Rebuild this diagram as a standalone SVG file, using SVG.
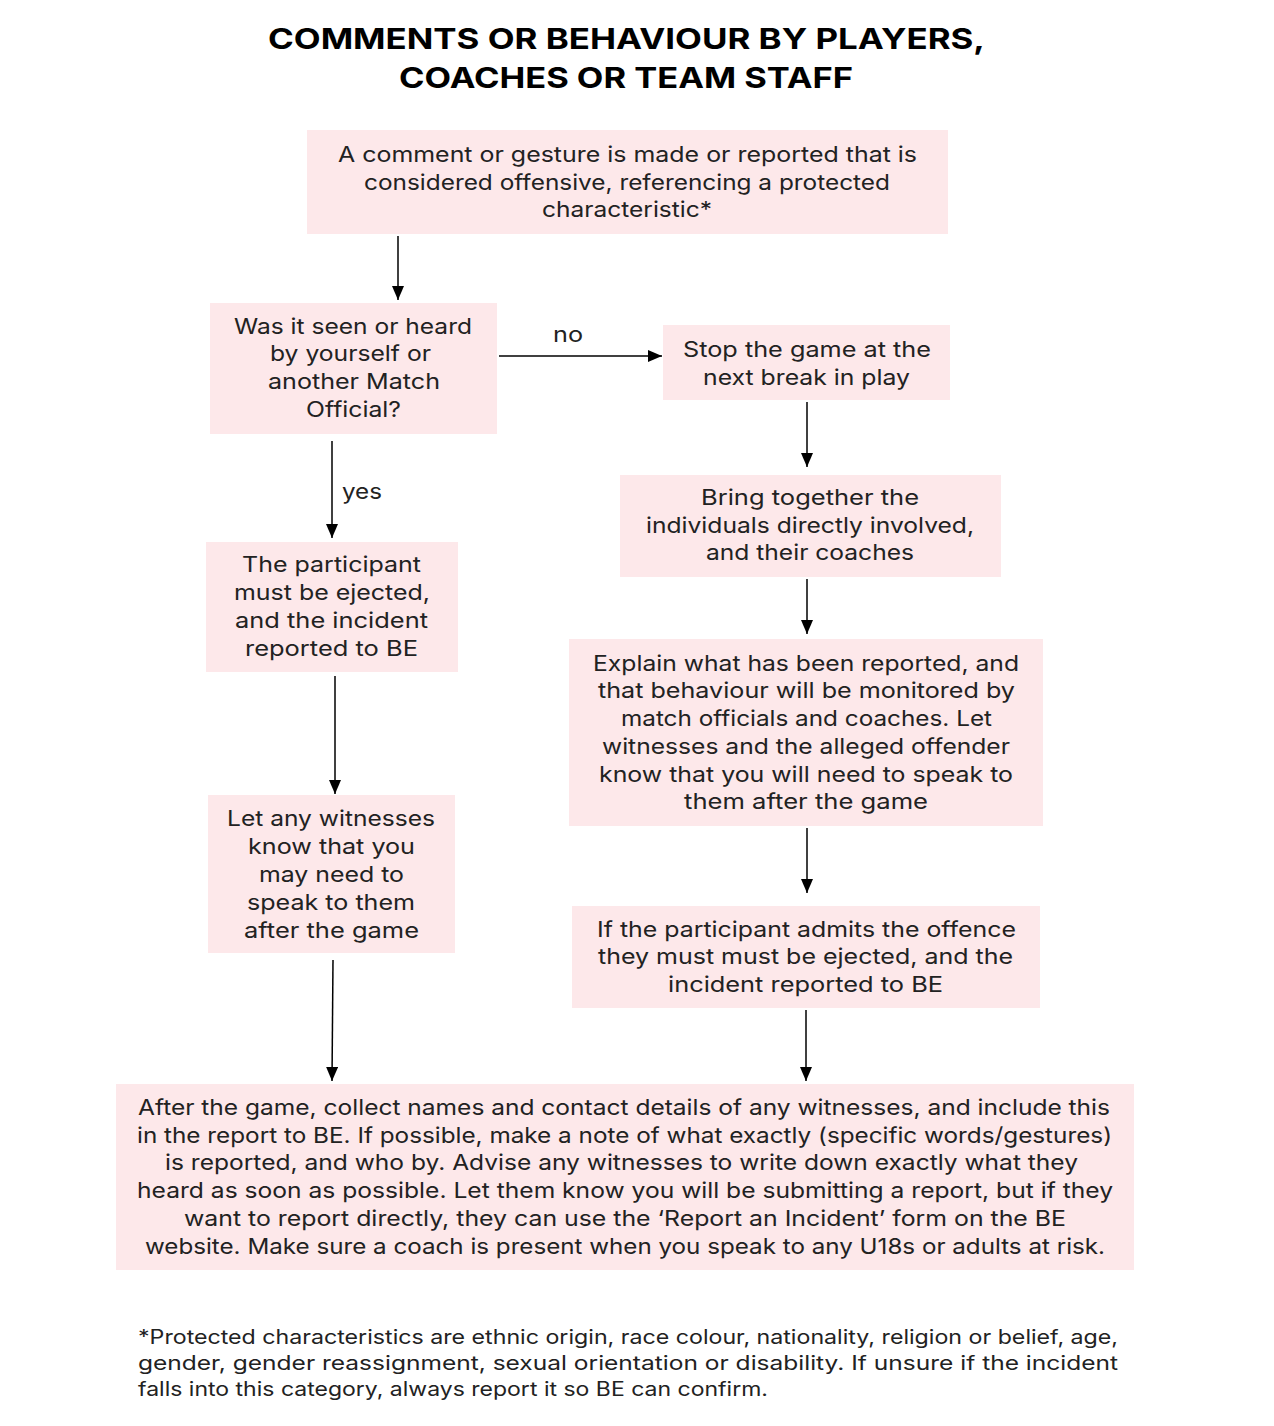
<svg xmlns="http://www.w3.org/2000/svg" width="1274" height="1426" viewBox="0 0 1274 1426">
<defs>
<marker id="ah" viewBox="0 0 14 12" refX="14" refY="6" markerWidth="14" markerHeight="12" markerUnits="userSpaceOnUse" orient="auto">
<path d="M0,0 L14,6 L0,12 Z" fill="#000"/>
</marker>
<style>
.box{fill:#fde8ea;}
.t{font-family:Inter,"Open Sans","Liberation Sans",sans-serif;font-size:21.5px;fill:#222;text-anchor:middle;}
.title{font-family:Inter,"Open Sans","Liberation Sans",sans-serif;font-size:29px;font-weight:bold;fill:#000;text-anchor:middle;}
.fn{font-family:Inter,"Open Sans","Liberation Sans",sans-serif;font-size:19.5px;fill:#222;}
.c{stroke:#000;stroke-width:1.5;fill:none;marker-end:url(#ah);}
</style>
</defs>
<rect width="1274" height="1426" fill="#fff"/>
<g id="title">
<text class="title" x="626.5" y="49" textLength="717" lengthAdjust="spacingAndGlyphs">COMMENTS OR BEHAVIOUR BY PLAYERS,</text>
<text class="title" x="626" y="88" textLength="454" lengthAdjust="spacingAndGlyphs">COACHES OR TEAM STAFF</text>
</g>
<g id="connectors">
<line class="c" x1="398" y1="236" x2="398" y2="300"/>
<line class="c" x1="499" y1="356" x2="662" y2="356"/>
<text class="t" x="568" y="342" textLength="30" lengthAdjust="spacingAndGlyphs">no</text>
<line class="c" x1="807" y1="402" x2="807" y2="467"/>
<line class="c" x1="807" y1="579" x2="807" y2="634"/>
<line class="c" x1="807" y1="828" x2="807" y2="893"/>
<line class="c" x1="806" y1="1010" x2="806" y2="1081"/>
<line class="c" x1="332" y1="441" x2="332" y2="538"/>
<text class="t" x="362" y="499" textLength="40" lengthAdjust="spacingAndGlyphs">yes</text>
<line class="c" x1="335" y1="676" x2="335" y2="794"/>
<line class="c" x1="333" y1="960" x2="332" y2="1081"/>
</g>
<g id="n1">
<rect class="box" x="307" y="130" width="641" height="104"/>
<text class="t" x="627.5" y="162" textLength="579" lengthAdjust="spacingAndGlyphs">A comment or gesture is made or reported that is</text>
<text class="t" x="627" y="190" textLength="526" lengthAdjust="spacingAndGlyphs">considered offensive, referencing a protected</text>
<text class="t" x="627" y="217" textLength="170" lengthAdjust="spacingAndGlyphs">characteristic*</text>
</g>
<g id="n2">
<rect class="box" x="210" y="303" width="287" height="131"/>
<text class="t" x="353" y="334" textLength="238" lengthAdjust="spacingAndGlyphs">Was it seen or heard</text>
<text class="t" x="350.5" y="361" textLength="161" lengthAdjust="spacingAndGlyphs">by yourself or</text>
<text class="t" x="354" y="389" textLength="172" lengthAdjust="spacingAndGlyphs">another Match</text>
<text class="t" x="353.5" y="417" textLength="95" lengthAdjust="spacingAndGlyphs">Official?</text>
</g>
<g id="n3">
<rect class="box" x="663" y="325" width="287" height="75"/>
<text class="t" x="807" y="357" textLength="248" lengthAdjust="spacingAndGlyphs">Stop the game at the</text>
<text class="t" x="806.5" y="385" textLength="207" lengthAdjust="spacingAndGlyphs">next break in play</text>
</g>
<g id="n4">
<rect class="box" x="620" y="475" width="381" height="102"/>
<text class="t" x="810" y="505" textLength="218" lengthAdjust="spacingAndGlyphs">Bring together the</text>
<text class="t" x="810" y="533" textLength="328" lengthAdjust="spacingAndGlyphs">individuals directly involved,</text>
<text class="t" x="810" y="560" textLength="208" lengthAdjust="spacingAndGlyphs">and their coaches</text>
</g>
<g id="n5">
<rect class="box" x="569" y="639" width="474" height="187"/>
<text class="t" x="806" y="671" textLength="426" lengthAdjust="spacingAndGlyphs">Explain what has been reported, and</text>
<text class="t" x="806.5" y="698" textLength="417" lengthAdjust="spacingAndGlyphs">that behaviour will be monitored by</text>
<text class="t" x="806.5" y="726" textLength="371" lengthAdjust="spacingAndGlyphs">match officials and coaches. Let</text>
<text class="t" x="806" y="754" textLength="408" lengthAdjust="spacingAndGlyphs">witnesses and the alleged offender</text>
<text class="t" x="806" y="782" textLength="414" lengthAdjust="spacingAndGlyphs">know that you will need to speak to</text>
<text class="t" x="806" y="809" textLength="244" lengthAdjust="spacingAndGlyphs">them after the game</text>
</g>
<g id="n6">
<rect class="box" x="572" y="906" width="468" height="102"/>
<text class="t" x="806.5" y="937" textLength="419" lengthAdjust="spacingAndGlyphs">If the participant admits the offence</text>
<text class="t" x="805.5" y="964" textLength="415" lengthAdjust="spacingAndGlyphs">they must must be ejected, and the</text>
<text class="t" x="805.5" y="992" textLength="275" lengthAdjust="spacingAndGlyphs">incident reported to BE</text>
</g>
<g id="n7">
<rect class="box" x="206" y="542" width="252" height="130"/>
<text class="t" x="331.5" y="572" textLength="179" lengthAdjust="spacingAndGlyphs">The participant</text>
<text class="t" x="332" y="600" textLength="196" lengthAdjust="spacingAndGlyphs">must be ejected,</text>
<text class="t" x="331.5" y="628" textLength="193" lengthAdjust="spacingAndGlyphs">and the incident</text>
<text class="t" x="331.5" y="656" textLength="173" lengthAdjust="spacingAndGlyphs">reported to BE</text>
</g>
<g id="n8">
<rect class="box" x="208" y="795" width="247" height="158"/>
<text class="t" x="331" y="826" textLength="208" lengthAdjust="spacingAndGlyphs">Let any witnesses</text>
<text class="t" x="331.5" y="854" textLength="167" lengthAdjust="spacingAndGlyphs">know that you</text>
<text class="t" x="331.5" y="882" textLength="145" lengthAdjust="spacingAndGlyphs">may need to</text>
<text class="t" x="331" y="910" textLength="168" lengthAdjust="spacingAndGlyphs">speak to them</text>
<text class="t" x="331.5" y="938" textLength="175" lengthAdjust="spacingAndGlyphs">after the game</text>
</g>
<g id="n9">
<rect class="box" x="116" y="1084" width="1018" height="186"/>
<text class="t" x="624" y="1115" textLength="972" lengthAdjust="spacingAndGlyphs">After the game, collect names and contact details of any witnesses, and include this</text>
<text class="t" x="624.5" y="1143" textLength="975" lengthAdjust="spacingAndGlyphs">in the report to BE. If possible, make a note of what exactly (specific words/gestures)</text>
<text class="t" x="621.5" y="1170" textLength="913" lengthAdjust="spacingAndGlyphs">is reported, and who by. Advise any witnesses to write down exactly what they</text>
<text class="t" x="625" y="1198" textLength="976" lengthAdjust="spacingAndGlyphs">heard as soon as possible. Let them know you will be submitting a report, but if they</text>
<text class="t" x="625" y="1226" textLength="882" lengthAdjust="spacingAndGlyphs">want to report directly, they can use the ‘Report an Incident’ form on the BE</text>
<text class="t" x="625" y="1254" textLength="960" lengthAdjust="spacingAndGlyphs">website. Make sure a coach is present when you speak to any U18s or adults at risk.</text>
</g>
<g id="footnote">
<text class="fn" x="138" y="1344" textLength="980" lengthAdjust="spacingAndGlyphs">*Protected characteristics are ethnic origin, race colour, nationality, religion or belief, age,</text>
<text class="fn" x="138" y="1370" textLength="980" lengthAdjust="spacingAndGlyphs">gender, gender reassignment, sexual orientation or disability. If unsure if the incident</text>
<text class="fn" x="138" y="1396" textLength="630" lengthAdjust="spacingAndGlyphs">falls into this category, always report it so BE can confirm.</text>
</g>
</svg>
